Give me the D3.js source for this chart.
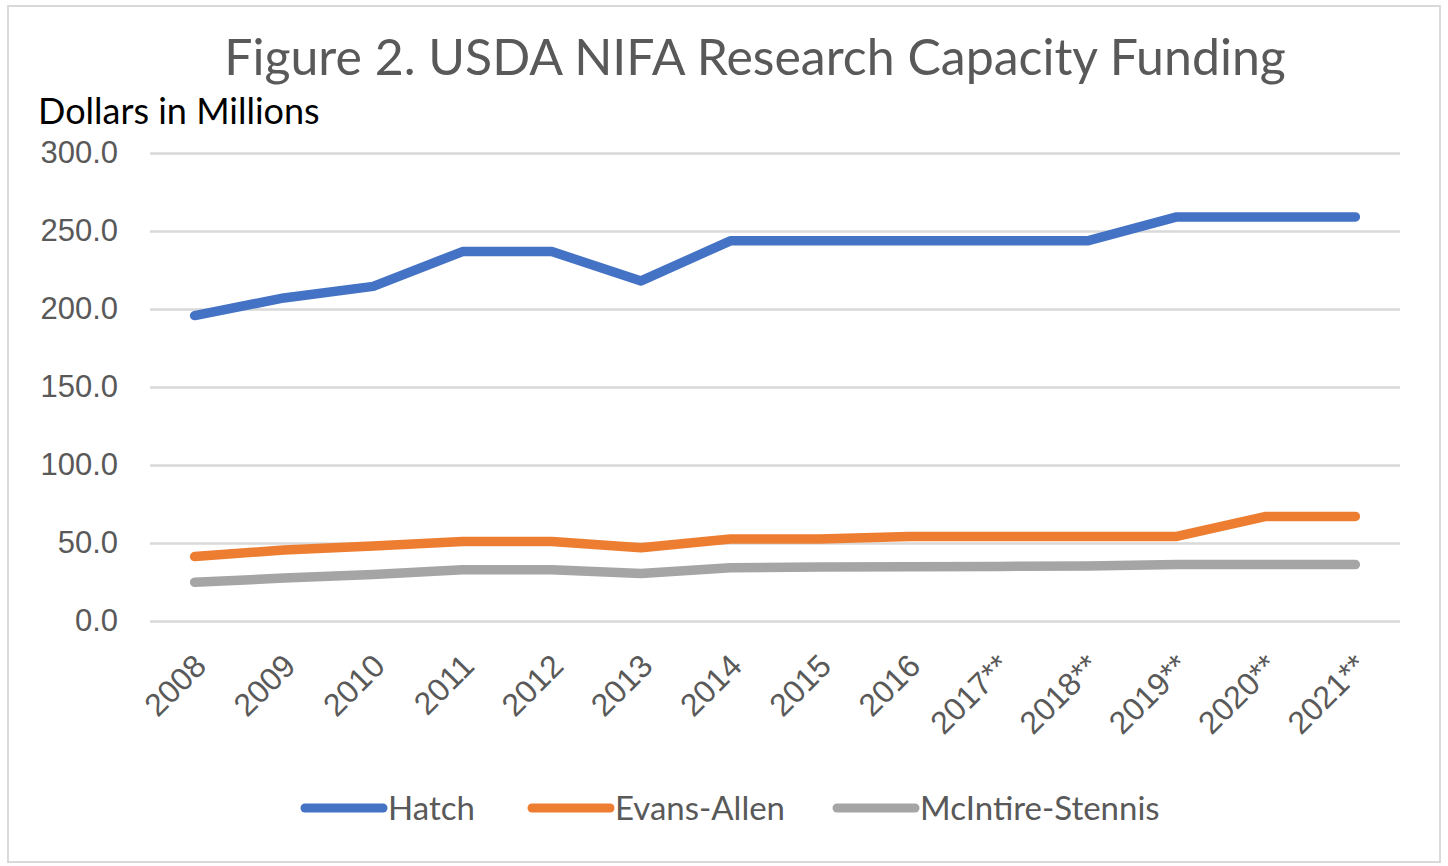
<!DOCTYPE html>
<html>
<head>
<meta charset="utf-8">
<script src="https://cdn.jsdelivr.net/npm/d3@7"></script>
<style>
  body { margin: 0; background: #fff; }
  svg { display: block; font-family: Lato, "Open Sans", sans-serif; }
</style>
</head>
<body>
<div id="chart"></div>
<script>
// Data (dollars in millions)
const years = ["2008", "2009", "2010", "2011", "2012", "2013", "2014", "2015", "2016",
  "2017**", "2018**", "2019**", "2020**", "2021**"];
const hatch = [195.8, 207.1, 214.5, 236.8, 236.8, 218.0, 243.7, 243.7, 243.7, 243.7, 243.7, 259.0, 259.0, 259.0];
const evansAllen = [41.3, 45.5, 48.0, 50.9, 50.9, 47.0, 52.5, 52.5, 54.2, 54.2, 54.2, 54.2, 67.0, 67.0];
const mcintire = [24.8, 27.5, 29.8, 32.9, 32.9, 30.5, 34.2, 34.6, 34.8, 35.0, 35.2, 36.2, 36.2, 36.2];
const yTicks = [0, 50, 100, 150, 200, 250, 300];

const series = [
  { name: "Hatch", values: hatch, color: "#4472C4" },
  { name: "Evans-Allen", values: evansAllen, color: "#ED7D31" },
  { name: "McIntire-Stennis", values: mcintire, color: "#A5A5A5" }
];

const width = 1448, height = 866;
const margins = { top: 153, right: 48, bottom: 245, left: 150 };

const svg = d3.select("#chart")
  .append("svg")
  .attr("width", width)
  .attr("height", height);

// chart frame
svg.append("rect")
  .attr("x", 8).attr("y", 6)
  .attr("width", width - 16).attr("height", height - 10)
  .attr("fill", "#fff")
  .attr("stroke", "#D9D9D9")
  .attr("stroke-width", 2);

const xScale = d3.scalePoint()
  .domain(years)
  .range([margins.left, width - margins.right])
  .padding(0.5);

const yScale = d3.scaleLinear()
  .domain([0, 300])
  .range([height - margins.bottom, margins.top]);

// gridlines + y labels
const yAxis = d3.axisLeft(yScale)
  .tickValues(yTicks)
  .tickFormat(d3.format(".1f"))
  .tickSize(-(width - margins.left - margins.right))
  .tickPadding(32);

svg.append("g")
  .attr("transform", `translate(${margins.left},0)`)
  .call(yAxis)
  .call(g => g.select(".domain").remove())
  .call(g => g.selectAll(".tick line").attr("stroke", "#D9D9D9").attr("stroke-width", 2.5))
  .call(g => g.selectAll(".tick text")
    .attr("fill", "#595959")
    .style("font-size", "31px"));

// x labels
const xAxis = d3.axisBottom(xScale).tickSize(0).tickPadding(0);

svg.append("g")
  .attr("transform", `translate(0, ${height - margins.bottom})`)
  .call(xAxis)
  .call(g => g.select(".domain").remove())
  .call(g => g.selectAll(".tick text")
    .attr("fill", "#595959")
    .style("font-size", "32px")
    .style("text-anchor", "end")
    .attr("dy", "0")
    .attr("transform", "translate(13, 47) rotate(-45)"));

// lines
const line = d3.line()
  .x((d, i) => xScale(years[i]))
  .y(d => yScale(d));

svg.append("g")
  .selectAll("path")
  .data(series.slice().reverse())
  .join("path")
  .attr("d", d => line(d.values))
  .attr("fill", "none")
  .attr("stroke", d => d.color)
  .attr("stroke-width", 9.5)
  .attr("stroke-linecap", "round")
  .attr("stroke-linejoin", "round");

// title
svg.append("text")
  .attr("x", 755)
  .attr("y", 75)
  .attr("text-anchor", "middle")
  .attr("fill", "#595959")
  .style("font-size", "50px")
  .text("Figure 2. USDA NIFA Research Capacity Funding");

svg.append("text")
  .attr("x", 38)
  .attr("y", 124)
  .attr("fill", "#000")
  .style("font-size", "36px")
  .text("Dollars in Millions");

// legend
const legendX = [305, 532, 837];
const legend = svg.append("g")
  .selectAll("g")
  .data(series)
  .join("g")
  .attr("transform", (d, i) => `translate(${legendX[i]}, 808)`);

legend.append("line")
  .attr("x1", 0).attr("x2", 78)
  .attr("stroke", d => d.color)
  .attr("stroke-width", 9)
  .attr("stroke-linecap", "round");

legend.append("text")
  .attr("x", 83)
  .attr("y", 12)
  .attr("fill", "#595959")
  .style("font-size", "33px")
  .text(d => d.name);
</script>
</body>
</html>
